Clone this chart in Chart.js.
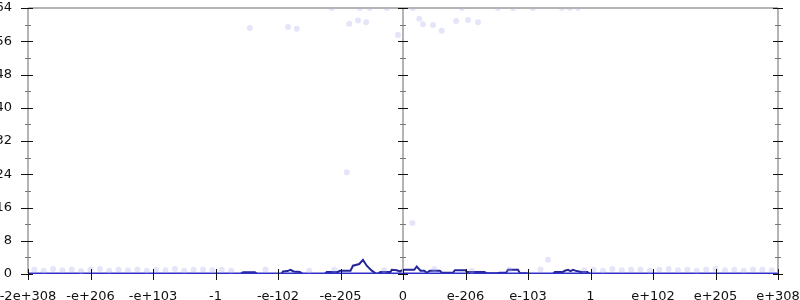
<!DOCTYPE html>
<html>
<head>
<meta charset="utf-8">
<script src="https://cdn.jsdelivr.net/npm/chart.js@4.4.4/dist/chart.umd.min.js"></script>
<style>
  html, body { margin: 0; padding: 0; background: #fff; }
  #wrap { width: 800px; height: 300px; }
</style>
</head>
<body>
<div id="wrap"><canvas id="c"></canvas></div>
<script>
// x axis: each unit is one labelled position, -6 .. 6
const xLabels = ["-2e+308", "-e+206", "-e+103", "-1", "-e-102", "-e-205", "0",
                 "e-206", "e-103", "1", "e+102", "e+205", "e+308"]
const yTicks = [0, 8, 16, 24, 32, 40, 48, 56, 64]

// main histogram line
const lineX = [-6, -2.6, -2.56, -2.37, -2.33, -1.95, -1.92, -1.85, -1.8, -1.75, -1.65, -1.6,
  -1.25, -1.22, -1.04, -1.01, -0.84, -0.8, -0.7, -0.64, -0.58, -0.5, -0.42, -0.36, -0.2,
  -0.18, -0.1, -0.05, 0, 0.18, 0.22, 0.28, 0.34, 0.38, 0.43, 0.59, 0.62, 0.8, 0.83, 1.0,
  1.02, 1.3, 1.34, 1.5, 1.55, 1.65, 1.68, 1.84, 1.87, 1.98, 2.0, 2.4, 2.43, 2.56, 2.59,
  2.64, 2.68, 2.72, 2.78, 2.85, 2.95, 2.99, 6]
const lineY = [0, 0, 0.4, 0.4, 0, 0, 0.6, 0.7, 1.0, 0.6, 0.5, 0,
  0, 0.5, 0.5, 0.8, 0.8, 2.0, 2.4, 3.4, 2.0, 0.8, 0, 0.5, 0.5,
  1.0, 0.9, 0.6, 1.0, 1.0, 1.8, 0.8, 0.8, 0.3, 0.8, 0.8, 0.3, 0.3, 0.9, 0.9,
  0.5, 0.5, 0.2, 0.2, 0.3, 0.3, 1.0, 1.0, 0.2, 0.2, 0, 0, 0.5, 0.5, 0.8,
  1.0, 0.7, 1.0, 0.7, 0.5, 0.5, 0, 0]

// zero baseline
const baseX = [-6, 6]
const baseY = [0, 0]

// faint sample points
const dotX = [-2.45, -1.84, -1.70, -1.14, -0.86, -0.72, -0.59, -0.69, -0.53, -0.26, -0.08,
  0.16, 0.26, 0.32, 0.48, 0.62, 0.85, 1.04, 1.2, 0.94, 1.52, 1.76, 2.08, 2.54, 2.67, 2.8,
  -0.9, 0.15, 2.32,
  -5.9, -5.75, -5.6, -5.45, -5.3, -5.15, -5.0, -4.85, -4.7, -4.55, -4.4, -4.25, -4.1,
  -3.95, -3.8, -3.65, -3.5, -3.35, -3.2, -3.05, -2.9, -2.75, -2.2, -1.5, -1.1,
  -0.3, 0.5, 1.1, 1.7, 2.2, 2.9, 3.05, 3.2, 3.35, 3.5, 3.65, 3.8, 3.95, 4.1, 4.25,
  4.4, 4.55, 4.7, 4.85, 5.0, 5.15, 5.3, 5.45, 5.6, 5.75, 5.9]
const dotY = [59.2, 59.4, 59, 64, 60.2, 61, 60.6, 64, 64, 64, 57.5,
  64, 61.4, 60.1, 59.9, 58.5, 60.9, 61.1, 60.6, 64, 64, 64, 64, 64, 64, 64,
  24.5, 12.3, 3.4,
  1.0, 0.8, 1.2, 0.9, 1.1, 0.7, 1.0, 1.2, 0.8, 1.0, 0.9, 1.1, 0.8,
  1.0, 0.9, 1.2, 0.8, 1.0, 1.1, 0.9, 1.0, 0.8, 1.1, 0.8, 1.0,
  0.9, 1.2, 0.8, 1.0, 1.1, 0.9, 1.0, 0.8, 1.2, 0.9, 1.0, 1.1, 0.8, 1.0, 1.2,
  0.9, 1.0, 0.8, 1.1, 1.2, 0.9, 1.0, 0.8, 1.1, 1.0, 0.9]

const pts = (xs, ys) => xs.map((x, i) => ({ x: x, y: ys[i] }))

// axis lines (left, centre, right, top) and crossing tick marks
const axisDecor = {
  id: "axisDecor",
  afterDraw(chart) {
    try {
      const ctx = chart.ctx
      const a = chart.chartArea
      const sx = chart.scales.x
      const sy = chart.scales.y
      const cx = Math.round(sx.getPixelForValue(0))
      const verts = [Math.round(a.left), cx, Math.round(a.right)]
      ctx.save()
      ctx.strokeStyle = "#b4b4b4"
      ctx.lineWidth = 2
      ctx.beginPath()
      ctx.moveTo(a.left, Math.round(a.top))
      ctx.lineTo(a.right, Math.round(a.top))
      verts.forEach((px) => {
        ctx.moveTo(px, a.top)
        ctx.lineTo(px, a.bottom - 1)
      })
      ctx.stroke()

      // minor y ticks
      ctx.lineWidth = 1
      ctx.strokeStyle = "#777777"
      ctx.beginPath()
      for (let v = 4; v < 64; v += 8) {
        const py = Math.round(sy.getPixelForValue(v)) + 0.5
        verts.forEach((px) => {
          ctx.moveTo(px - 3, py)
          ctx.lineTo(px + 3, py)
        })
      }
      ctx.stroke()

      // major ticks
      ctx.strokeStyle = "#111111"
      ctx.beginPath()
      yTicks.forEach((v) => {
        const py = Math.round(sy.getPixelForValue(v)) + 0.5
        ctx.moveTo(verts[0] - 7, py); ctx.lineTo(verts[0] + 5, py)
        ctx.moveTo(cx - 5, py); ctx.lineTo(cx + 5, py)
        ctx.moveTo(verts[2] - 5, py); ctx.lineTo(verts[2] + 5, py)
      })
      xLabels.forEach((lab, i) => {
        const px = Math.round(sx.getPixelForValue(i - 6)) + 0.5
        ctx.moveTo(px, a.bottom - 5)
        ctx.lineTo(px, a.bottom + 6)
      })
      ctx.stroke()
      ctx.restore()
    } catch (e) {
      console.error(e)
    }
  }
}

new Chart(document.getElementById("c"), {
  type: "scatter",
  data: {
    datasets: [
      {
        label: "samples",
        data: pts(dotX, dotY),
        pointRadius: 3,
        pointBorderWidth: 0,
        pointBackgroundColor: "rgba(170, 170, 240, 0.3)",
        showLine: false
      },
      {
        label: "zero",
        data: pts(baseX, baseY),
        showLine: true,
        borderColor: "#3030c8",
        borderWidth: 3,
        pointRadius: 0
      },
      {
        label: "count",
        data: pts(lineX, lineY),
        showLine: true,
        borderColor: "#25259a",
        borderWidth: 2,
        pointRadius: 0,
        tension: 0
      }
    ]
  },
  plugins: [axisDecor],
  options: {
    responsive: true,
    maintainAspectRatio: false,
    animation: false,
    layout: { padding: { top: 8, left: 0, right: 22, bottom: 0 } },
    plugins: { legend: { display: false }, tooltip: { enabled: false } },
    scales: {
      x: {
        type: "linear",
        min: -6,
        max: 6,
        afterFit: (s) => {
          s.height = 26
          s.paddingLeft = 0
          s.paddingRight = 0
        },
        afterBuildTicks: (s) => { s.ticks = xLabels.map((_, i) => ({ value: i - 6 })) },
        ticks: {
          color: "#111",
          padding: 7,
          maxRotation: 0,
          autoSkip: false,
          font: { family: "DejaVu Sans", size: 13 },
          callback: (v) => xLabels[Math.round(v) + 6]
        },
        grid: { display: false },
        border: { display: false }
      },
      y: {
        min: 0,
        max: 64,
        afterFit: (s) => {
          s.width = 28
          s.paddingTop = 0
          s.paddingBottom = 0
        },
        afterBuildTicks: (s) => { s.ticks = yTicks.map((v) => ({ value: v })) },
        ticks: {
          color: "#111",
          padding: 8,
          font: { family: "DejaVu Sans", size: 13 }
        },
        grid: { display: false },
        border: { display: false }
      }
    }
  }
})
</script>
</body>
</html>
